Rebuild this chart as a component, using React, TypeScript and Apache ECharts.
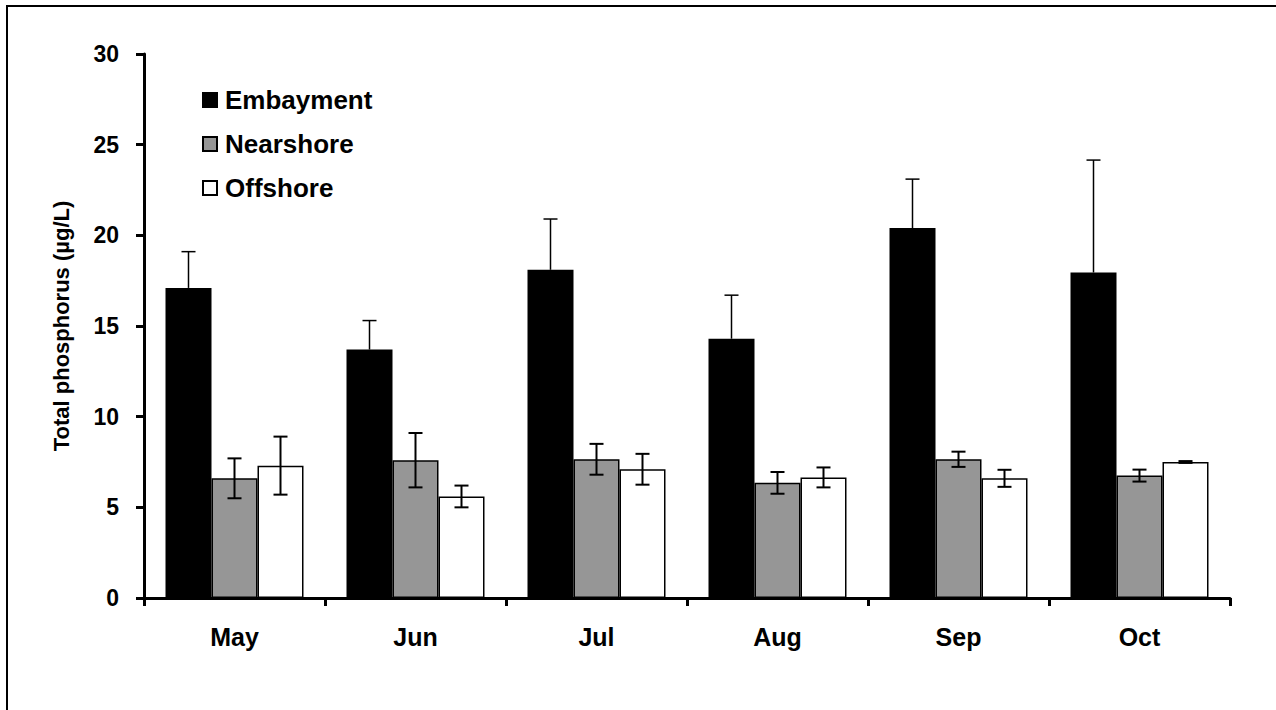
import React, { useEffect, useRef } from "react";
import * as echarts from "echarts";

// Monthly total phosphorus means (µg/L) and standard errors by zone
const months = ["May", "Jun", "Jul", "Aug", "Sep", "Oct"];
const embayment = [17.1, 13.7, 18.1, 14.3, 20.4, 17.95];
const embaymentErr = [2.0, 1.6, 2.8, 2.4, 2.7, 6.2];
const nearshore = [6.6, 7.6, 7.65, 6.35, 7.65, 6.75];
const nearshoreErr = [1.1, 1.5, 0.85, 0.6, 0.42, 0.33];
const offshore = [7.3, 5.6, 7.1, 6.65, 6.6, 7.5];
const offshoreErr = [1.6, 0.6, 0.85, 0.55, 0.47, 0.05];
const yTicks = [0, 5, 10, 15, 20, 25, 30];

const FONT = "Liberation Sans, Arial, sans-serif";
const BAR_W = 46;

function errorSeries(values: number[], errs: number[], offset: number, upperOnly: boolean, lw: number) {
  return {
    type: "custom",
    z: 10,
    silent: true,
    data: values.map((v, i) => [i, v, errs[i]]),
    renderItem: (_params: any, api: any) => {
      const i = api.value(0);
      const v = api.value(1);
      const e = api.value(2);
      const mid = api.coord([i, v]);
      const hi = api.coord([i, v + e]);
      const lo = api.coord([i, v - e]);
      const x = mid[0] + offset;
      const cap = 7;
      const style = { stroke: "#000", lineWidth: lw };
      const children: any[] = [
        { type: "line", shape: { x1: x, y1: hi[1], x2: x, y2: upperOnly ? mid[1] : lo[1] }, style },
        { type: "line", shape: { x1: x - cap, y1: hi[1], x2: x + cap, y2: hi[1] }, style },
      ];
      if (!upperOnly) {
        children.push({ type: "line", shape: { x1: x - cap, y1: lo[1], x2: x + cap, y2: lo[1] }, style });
      }
      return { type: "group", children };
    },
  };
}

export default function App() {
  const ref = useRef<HTMLDivElement>(null);

  useEffect(() => {
    document.body.style.margin = "0";
    const chart = echarts.init(ref.current!, null, { renderer: "svg" });
    const barBorder = { borderColor: "#000", borderWidth: 1.5 };
    chart.setOption({
      animation: false,
      backgroundColor: "#fff",
      textStyle: { fontFamily: FONT },
      grid: { left: 144, top: 54, right: 46, bottom: 112, containLabel: false },
      legend: {
        data: ["Embayment", "Nearshore", "Offshore"],
        orient: "vertical",
        left: 197,
        top: 82,
        itemWidth: 14,
        itemHeight: 14,
        itemGap: 18,
        icon: "rect",
        textStyle: { fontSize: 26, fontWeight: "bold", color: "#000", fontFamily: FONT, lineHeight: 26, padding: [0, 0, 0, 3] },
      },
      xAxis: {
        type: "category",
        data: months,
        boundaryGap: true,
        axisLine: { lineStyle: { color: "#000", width: 3 } },
        axisTick: { show: true, alignWithLabel: false, length: 8, lineStyle: { color: "#000", width: 3 } },
        axisLabel: { color: "#000", fontSize: 25, fontWeight: "bold", margin: 26, fontFamily: FONT },
        splitLine: { show: false },
      },
      yAxis: {
        type: "value",
        min: yTicks[0],
        max: yTicks[yTicks.length - 1],
        interval: 5,
        name: "Total phosphorus (µg/L)",
        nameLocation: "middle",
        nameGap: 72,
        nameRotate: 90,
        nameTextStyle: { color: "#000", fontSize: 22, fontWeight: "bold", fontFamily: FONT },
        axisLine: { show: true, lineStyle: { color: "#000", width: 3 } },
        axisTick: { show: true, length: 8, lineStyle: { color: "#000", width: 3 } },
        axisLabel: { color: "#000", fontSize: 23, fontWeight: "bold", margin: 25, fontFamily: FONT },
        splitLine: { show: false },
      },
      series: [
        {
          name: "Embayment",
          type: "bar",
          data: embayment,
          barWidth: BAR_W,
          barGap: "0%",
          itemStyle: { color: "#000", ...barBorder },
        },
        {
          name: "Nearshore",
          type: "bar",
          data: nearshore,
          barWidth: BAR_W,
          barGap: "0%",
          itemStyle: { color: "#969696", ...barBorder },
        },
        {
          name: "Offshore",
          type: "bar",
          data: offshore,
          barWidth: BAR_W,
          barGap: "0%",
          itemStyle: { color: "#fff", ...barBorder },
        },
        errorSeries(embayment, embaymentErr, -BAR_W, true, 1.5),
        errorSeries(nearshore, nearshoreErr, 0, false, 2),
        errorSeries(offshore, offshoreErr, BAR_W, false, 2),
      ],
      graphic: [
        { type: "line", shape: { x1: 7, y1: 6, x2: 1276, y2: 6 }, style: { stroke: "#000", lineWidth: 2 } },
        { type: "line", shape: { x1: 7, y1: 5, x2: 7, y2: 710 }, style: { stroke: "#000", lineWidth: 2 } },
      ],
    });
    return () => chart.dispose();
  }, []);

  return <div ref={ref} style={{ width: 1276, height: 710 }} />;
}
